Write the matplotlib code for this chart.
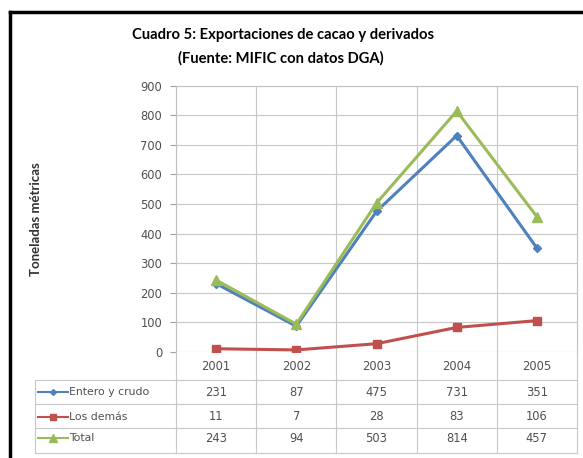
import matplotlib.pyplot as plt
from matplotlib.lines import Line2D

# Data
years = ["2001", "2002", "2003", "2004", "2005"]
entero = [231, 87, 475, 731, 351]
demas = [11, 7, 28, 83, 106]
total = [243, 94, 503, 814, 457]
series_names = ["Entero y crudo", "Los demás", "Total"]

colors = ["#4F81BD", "#C0504D", "#9BBB59"]
markers = ["D", "s", "^"]
msizes = [4, 6, 7]

plt.rcParams['font.family'] = ['DejaVu Sans']
title_font = ['Lato', 'DejaVu Sans']
txt_c = "#505050"
fs = 8.3

W, H = 583, 458
fig = plt.figure(figsize=(W / 100, H / 100), dpi=100)

# outer frame
fig.add_artist(Line2D([10 / W, 10 / W], [0, 1 - 12 / H], color="black", lw=2.5, transform=fig.transFigure))
fig.add_artist(Line2D([10 / W, 1], [1 - 12 / H, 1 - 12 / H], color="black", lw=2.5, transform=fig.transFigure))

ax = fig.add_axes([176 / W, 1 - 352 / H, 401 / W, 266.4 / H])
x = list(range(1, len(years) + 1))
for vals, c, m, ms in zip([entero, demas, total], colors, markers, msizes):
    ax.plot(x, vals, color=c, lw=2.2, marker=m, markersize=ms, zorder=3)

ax.set_xlim(0.5, len(years) + 0.5)
ax.set_ylim(0, 900)
ax.set_yticks(range(0, 901, 100))
ax.set_xticks([i + 0.5 for i in range(len(years))])
ax.set_xticklabels([])
ax.tick_params(axis="x", length=0)
ax.tick_params(axis="y", length=4, color="#a0a0a0", labelsize=fs, labelcolor=txt_c, pad=6)
ax.grid(True, color="#c8c8c8", lw=0.8)
for s in ax.spines.values():
    s.set_color("#c0c0c0")
    s.set_linewidth(0.8)
ax.spines["bottom"].set_visible(False)

ax.set_ylabel("Toneladas métricas", fontsize=9.5, fontweight="bold", color="#303030",
              family=title_font)
ax.yaxis.set_label_coords((42 - 176) / 401, 0.5)

fig.text(283 / W, 1 - 35 / H, "Cuadro 5: Exportaciones de cacao y derivados",
         ha="center", va="center", fontsize=10.6, fontweight="bold", family=title_font)
fig.text(281 / W, 1 - 58 / H, "(Fuente: MIFIC con datos DGA)",
         ha="center", va="center", fontsize=10.6, fontweight="bold", family=title_font)

# data table below the plot
tr = ax.get_xaxis_transform()
px = 1 / 266.4  # one pixel in axes fraction
grid_c = "#c8c8c8"
y_top_tab = -28 * px
rows_y = [-40 * px, -65 * px, -86 * px]
hlines = [y_top_tab, -52 * px, -76 * px, -101 * px]

for i, yr in enumerate(years):
    ax.text(i + 1, -15 * px, yr, transform=tr, ha="center", va="center",
            fontsize=fs, color=txt_c, clip_on=False)
    for vals, ry in zip([entero, demas, total], rows_y):
        ax.text(i + 1, ry, str(vals[i]), transform=tr, ha="center", va="center",
                fontsize=fs, color=txt_c, clip_on=False)

x0 = 0.5 - (176 - 35) / 401 * 5  # left edge of label column in data units
for hy in hlines:
    ax.add_line(Line2D([x0, 5.5], [hy, hy], transform=tr, color=grid_c, lw=0.8, clip_on=False))
for vx in [i + 0.5 for i in range(len(years) + 1)]:
    ax.add_line(Line2D([vx, vx], [0, hlines[-1]], transform=tr, color=grid_c, lw=0.8, clip_on=False))
ax.add_line(Line2D([x0, x0], [y_top_tab, hlines[-1]], transform=tr, color=grid_c, lw=0.8, clip_on=False))

kx0 = x0 + 3 / 401 * 5
kx1 = x0 + 33 / 401 * 5
for name, c, m, ms, ry in zip(series_names, colors, markers, msizes, rows_y):
    ax.add_line(Line2D([kx0, kx1], [ry, ry], transform=tr, color=c, lw=1.5, clip_on=False))
    ax.add_line(Line2D([(kx0 + kx1) / 2], [ry], transform=tr, color=c, marker=m,
                       markersize=ms - 1, clip_on=False))
    ax.text(kx1 + 0.01, ry, name, transform=tr, ha="left", va="center",
            fontsize=7.8, color=txt_c, clip_on=False)

fig.savefig("out.png", dpi=100)
